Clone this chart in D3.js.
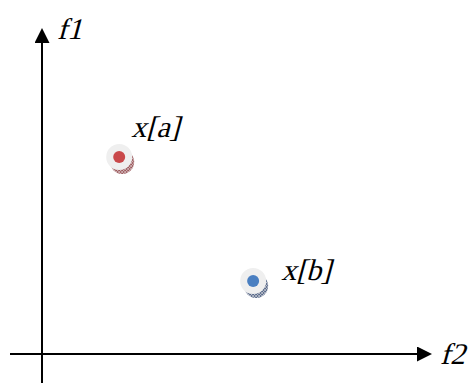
<!DOCTYPE html>
<html>
<head>
<meta charset="utf-8">
<script src="https://cdn.jsdelivr.net/npm/d3@7"></script>
<style>
  body { margin: 0; background: #fff; }
</style>
</head>
<body>
<div id="chart"></div>
<script>
// objective space: two solutions
var names = ["x[a]", "x[b]"];
var f2Values = [2.0, 5.47];
var f1Values = [6.1, 2.26];
var dotColors = ["#c9484a", "#4a7fc1"];
var shadowColors = ["#9b5559", "#56698a"];

var width = 476, height = 383;
// no serif italic installed -> slant the regular face
var serif = "'Liberation Serif', 'Times New Roman', serif";

var svg = d3.select("#chart")
  .append("svg")
    .attr("width", width)
    .attr("height", height);

// scales: axis origin at (42, 354)
var x = d3.scaleLinear().domain([0, 10]).range([42, 428]);
var y = d3.scaleLinear().domain([0, 10]).range([354, 31]);

var defs = svg.append("defs");
defs.append("marker")
    .attr("id", "arrow")
    .attr("viewBox", "0 0 15 15")
    .attr("refX", 13)
    .attr("refY", 7.5)
    .attr("markerWidth", 15)
    .attr("markerHeight", 15)
    .attr("markerUnits", "userSpaceOnUse")
    .attr("orient", "auto")
  .append("path")
    .attr("d", "M0,0L15,7.5L0,15Z")
    .attr("fill", "#000");

// hatched shadow patterns
shadowColors.forEach(function(c, i) {
  var p = defs.append("pattern")
      .attr("id", "hatch" + i)
      .attr("patternUnits", "userSpaceOnUse")
      .attr("width", 3)
      .attr("height", 3);
  p.append("rect").attr("width", 3).attr("height", 3).attr("fill", c);
  p.append("path").attr("d", "M0,0L3,3M3,0L0,3")
      .attr("stroke", "#e8e4e4").attr("stroke-width", 0.6);
});

function slanted(g, tx, ty, str) {
  return g.append("text")
      .attr("transform", "translate(" + tx + "," + ty + ") skewX(-15)")
      .attr("font-family", serif)
      .attr("font-size", 30)
      .text(str);
}

// axes
svg.append("line")
    .attr("x1", x(0)).attr("y1", height)
    .attr("x2", x(0)).attr("y2", y(10) - 1)
    .attr("stroke", "#000").attr("stroke-width", 2)
    .attr("marker-end", "url(#arrow)");
svg.append("line")
    .attr("x1", 10).attr("y1", y(0))
    .attr("x2", x(10) + 2).attr("y2", y(0))
    .attr("stroke", "#000").attr("stroke-width", 2)
    .attr("marker-end", "url(#arrow)");

slanted(svg, 57, 39, "f1");
slanted(svg, 440, 364, "f2");

// points
var labelDx = [12, 28], labelDy = [-20, -1];
var pts = svg.append("g").selectAll("g")
  .data(names)
  .enter().append("g")
    .attr("transform", function(d, i) { return "translate(" + x(f2Values[i]) + "," + y(f1Values[i]) + ")"; });

pts.append("circle")
    .attr("cx", 3).attr("cy", 5).attr("r", 12)
    .attr("fill", function(d, i) { return "url(#hatch" + i + ")"; });
pts.append("circle")
    .attr("r", 13)
    .attr("fill", "#efefef");
pts.append("circle")
    .attr("r", 6)
    .attr("fill", function(d, i) { return dotColors[i]; });

pts.each(function(d, i) {
  slanted(d3.select(this), labelDx[i], labelDy[i], d);
});
</script>
</body>
</html>
